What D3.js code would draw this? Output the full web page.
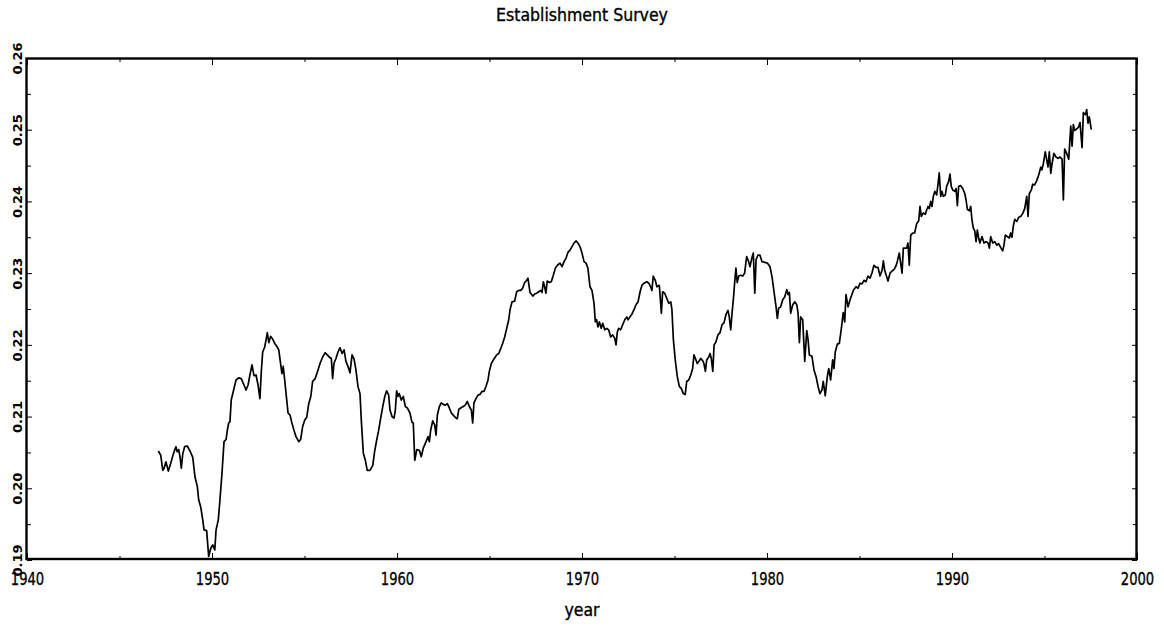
<!DOCTYPE html>
<html><head><meta charset="utf-8">
<script src="https://cdn.jsdelivr.net/npm/d3@7"></script>
<style>body{margin:0;background:#fff} svg{display:block}</style>
</head><body><svg id="c" width="1164" height="629"></svg>
<script>
const chartTitle = "Establishment Survey";
const xLabel = "year";
const xDomain = [1940, 2000];
const yDomain = [0.19, 0.26];
const xMajorTicks = [1940, 1950, 1960, 1970, 1980, 1990, 2000];
const xMinorTicks = [1945, 1955, 1965, 1975, 1985, 1995];
const yMajorTicks = [0.19, 0.20, 0.21, 0.22, 0.23, 0.24, 0.25, 0.26];
const yMinorTicks = [0.195, 0.205, 0.215, 0.225, 0.235, 0.245, 0.255];

// [year, share]
const points = [
[1947.10,0.2052],[1947.23,0.2046],[1947.34,0.2025],[1947.41,0.2028],[1947.51,0.2037],[1947.64,0.2024],[1947.77,0.2035],[1947.91,0.2048],
[1948.05,0.2058],[1948.12,0.2051],[1948.20,0.2054],[1948.27,0.2044],[1948.34,0.2028],[1948.42,0.2048],[1948.52,0.2058],[1948.66,0.2059],[1948.81,0.2052],[1948.96,0.2043],
[1949.08,0.2016],[1949.21,0.2002],[1949.28,0.1984],[1949.39,0.1974],[1949.50,0.1956],[1949.57,0.1942],[1949.71,0.1941],[1949.82,0.1905],[1949.93,0.1916],
[1950.04,0.1921],[1950.15,0.1914],[1950.22,0.1942],[1950.34,0.1956],[1950.43,0.1984],[1950.54,0.2021],[1950.65,0.2065],[1950.76,0.2068],[1950.83,0.2081],[1950.90,0.2091],[1950.97,0.2093],
[1951.04,0.2123],[1951.15,0.2135],[1951.30,0.2151],[1951.44,0.2154],[1951.58,0.2153],[1951.73,0.2144],[1951.84,0.2137],[1951.95,0.2144],
[1952.05,0.2158],[1952.16,0.2172],[1952.27,0.2157],[1952.38,0.2158],[1952.49,0.2144],[1952.59,0.2125],[1952.67,0.2165],[1952.74,0.2190],[1952.85,0.2197],[1952.92,0.2207],[1952.99,0.2217],
[1953.07,0.2203],[1953.17,0.2212],[1953.28,0.2208],[1953.39,0.2202],[1953.50,0.2198],[1953.61,0.2193],[1953.68,0.2179],[1953.78,0.2160],[1953.85,0.2170],[1953.93,0.2151],
[1954.04,0.2123],[1954.11,0.2105],[1954.22,0.2102],[1954.32,0.2091],[1954.43,0.2081],[1954.54,0.2072],[1954.69,0.2065],[1954.79,0.2068],[1954.90,0.2086],
[1955.01,0.2095],[1955.12,0.2099],[1955.23,0.2118],[1955.34,0.2128],[1955.44,0.2149],[1955.58,0.2153],[1955.73,0.2165],[1955.84,0.2174],[1955.98,0.2183],
[1956.12,0.2189],[1956.23,0.2186],[1956.34,0.2183],[1956.45,0.2181],[1956.52,0.2153],[1956.59,0.2174],[1956.70,0.2181],[1956.81,0.2190],[1956.92,0.2196],
[1957.03,0.2188],[1957.14,0.2193],[1957.24,0.2177],[1957.35,0.2170],[1957.46,0.2161],[1957.57,0.2186],[1957.68,0.2180],[1957.78,0.2165],[1957.89,0.2142],
[1958.00,0.2132],[1958.07,0.2095],[1958.18,0.2049],[1958.29,0.2039],[1958.39,0.2025],[1958.54,0.2025],[1958.69,0.2032],[1958.79,0.2051],[1958.90,0.2067],
[1959.01,0.2081],[1959.12,0.2098],[1959.23,0.2114],[1959.34,0.2128],[1959.44,0.2136],[1959.55,0.2130],[1959.62,0.2109],[1959.73,0.2100],[1959.84,0.2098],[1959.91,0.2109],[1959.98,0.2136],
[1960.05,0.2128],[1960.12,0.2132],[1960.23,0.2123],[1960.34,0.2128],[1960.45,0.2114],[1960.56,0.2112],[1960.70,0.2105],[1960.81,0.2092],[1960.88,0.2091],[1960.96,0.2039],
[1961.07,0.2054],[1961.21,0.2053],[1961.31,0.2044],[1961.42,0.2056],[1961.57,0.2065],[1961.68,0.2072],[1961.75,0.2065],[1961.82,0.2081],[1961.93,0.2094],
[1962.04,0.2088],[1962.11,0.2074],[1962.18,0.2102],[1962.29,0.2114],[1962.39,0.2119],[1962.50,0.2117],[1962.61,0.2116],[1962.72,0.2118],[1962.83,0.2112],[1962.94,0.2105],
[1963.04,0.2102],[1963.19,0.2098],[1963.26,0.2097],[1963.34,0.2110],[1963.44,0.2112],[1963.58,0.2114],[1963.69,0.2116],[1963.80,0.2121],[1963.91,0.2114],
[1964.02,0.2109],[1964.09,0.2091],[1964.16,0.2119],[1964.27,0.2125],[1964.38,0.2130],[1964.49,0.2131],[1964.59,0.2135],[1964.70,0.2135],[1964.81,0.2142],[1964.92,0.2151],[1964.99,0.2163],
[1965.10,0.2174],[1965.21,0.2179],[1965.31,0.2183],[1965.39,0.2186],[1965.50,0.2188],[1965.61,0.2195],[1965.71,0.2202],[1965.82,0.2211],[1965.93,0.2223],
[1966.04,0.2235],[1966.11,0.2249],[1966.22,0.2260],[1966.36,0.2261],[1966.47,0.2274],[1966.58,0.2276],[1966.69,0.2276],[1966.79,0.2279],[1966.90,0.2287],
[1967.01,0.2290],[1967.08,0.2293],[1967.19,0.2273],[1967.34,0.2268],[1967.44,0.2271],[1967.55,0.2272],[1967.66,0.2274],[1967.77,0.2276],[1967.84,0.2273],[1967.91,0.2288],[1967.98,0.2281],
[1968.05,0.2272],[1968.12,0.2289],[1968.23,0.2287],[1968.34,0.2288],[1968.45,0.2297],[1968.56,0.2307],[1968.67,0.2311],[1968.81,0.2314],[1968.92,0.2309],
[1969.03,0.2316],[1969.14,0.2321],[1969.24,0.2329],[1969.35,0.2332],[1969.46,0.2337],[1969.57,0.2342],[1969.68,0.2345],[1969.78,0.2342],[1969.89,0.2337],
[1970.00,0.2328],[1970.11,0.2316],[1970.22,0.2314],[1970.32,0.2307],[1970.43,0.2281],[1970.54,0.2276],[1970.65,0.2258],[1970.72,0.2232],[1970.79,0.2235],[1970.86,0.2225],[1970.94,0.2232],
[1971.04,0.2223],[1971.12,0.2230],[1971.23,0.2221],[1971.34,0.2223],[1971.44,0.2221],[1971.55,0.2211],[1971.66,0.2214],[1971.77,0.2209],[1971.84,0.2200],[1971.91,0.2218],[1971.98,0.2223],
[1972.09,0.2221],[1972.20,0.2228],[1972.31,0.2235],[1972.42,0.2239],[1972.49,0.2235],[1972.59,0.2239],[1972.70,0.2243],[1972.81,0.2249],[1972.92,0.2256],
[1973.03,0.2260],[1973.14,0.2274],[1973.24,0.2283],[1973.35,0.2286],[1973.50,0.2288],[1973.61,0.2286],[1973.71,0.2281],[1973.78,0.2276],[1973.85,0.2296],[1973.96,0.2290],
[1974.05,0.2281],[1974.18,0.2283],[1974.29,0.2244],[1974.36,0.2274],[1974.47,0.2272],[1974.58,0.2265],[1974.69,0.2258],[1974.80,0.2260],[1974.86,0.2249],[1974.94,0.2207],
[1975.04,0.2179],[1975.15,0.2156],[1975.26,0.2142],[1975.37,0.2139],[1975.48,0.2132],[1975.58,0.2131],[1975.66,0.2149],[1975.77,0.2151],[1975.88,0.2158],[1975.98,0.2167],
[1976.05,0.2186],[1976.16,0.2179],[1976.23,0.2174],[1976.34,0.2178],[1976.42,0.2181],[1976.52,0.2178],[1976.59,0.2174],[1976.67,0.2163],[1976.74,0.2179],[1976.85,0.2183],[1976.92,0.2188],[1976.99,0.2181],
[1977.07,0.2163],[1977.14,0.2200],[1977.24,0.2204],[1977.35,0.2214],[1977.46,0.2217],[1977.57,0.2228],[1977.68,0.2231],[1977.78,0.2242],[1977.89,0.2248],[1977.96,0.2239],
[1978.04,0.2221],[1978.11,0.2244],[1978.18,0.2263],[1978.25,0.2286],[1978.32,0.2307],[1978.39,0.2287],[1978.47,0.2296],[1978.58,0.2297],[1978.69,0.2296],[1978.79,0.2300],[1978.90,0.2323],
[1979.01,0.2316],[1979.08,0.2309],[1979.19,0.2322],[1979.26,0.2328],[1979.34,0.2272],[1979.41,0.2319],[1979.51,0.2325],[1979.62,0.2325],[1979.73,0.2316],[1979.88,0.2315],
[1980.02,0.2314],[1980.16,0.2309],[1980.27,0.2295],[1980.38,0.2274],[1980.49,0.2253],[1980.56,0.2237],[1980.63,0.2251],[1980.74,0.2253],[1980.85,0.2263],[1980.96,0.2267],
[1981.07,0.2277],[1981.14,0.2270],[1981.21,0.2273],[1981.28,0.2244],[1981.39,0.2256],[1981.50,0.2260],[1981.61,0.2256],[1981.68,0.2244],[1981.75,0.2203],[1981.82,0.2239],[1981.93,0.2235],
[1982.04,0.2177],[1982.15,0.2220],[1982.22,0.2207],[1982.29,0.2186],[1982.43,0.2184],[1982.54,0.2165],[1982.65,0.2156],[1982.76,0.2142],[1982.86,0.2132],[1982.97,0.2137],
[1983.04,0.2149],[1983.15,0.2129],[1983.26,0.2156],[1983.34,0.2167],[1983.44,0.2151],[1983.55,0.2179],[1983.62,0.2167],[1983.69,0.2190],[1983.80,0.2201],[1983.91,0.2202],
[1984.02,0.2223],[1984.12,0.2245],[1984.20,0.2232],[1984.27,0.2270],[1984.38,0.2253],[1984.49,0.2263],[1984.67,0.2276],[1984.81,0.2281],[1984.92,0.2279],
[1985.03,0.2286],[1985.14,0.2285],[1985.24,0.2290],[1985.35,0.2288],[1985.46,0.2296],[1985.57,0.2293],[1985.68,0.2301],[1985.78,0.2311],[1985.89,0.2308],
[1986.00,0.2308],[1986.11,0.2296],[1986.22,0.2304],[1986.29,0.2317],[1986.36,0.2304],[1986.47,0.2295],[1986.54,0.2289],[1986.65,0.2300],[1986.76,0.2303],[1986.86,0.2305],[1986.97,0.2310],
[1987.04,0.2316],[1987.15,0.2328],[1987.23,0.2313],[1987.30,0.2300],[1987.37,0.2335],[1987.48,0.2335],[1987.55,0.2335],[1987.62,0.2342],[1987.69,0.2311],[1987.77,0.2353],[1987.88,0.2356],[1987.98,0.2356],
[1988.09,0.2369],[1988.20,0.2373],[1988.27,0.2393],[1988.34,0.2379],[1988.45,0.2384],[1988.56,0.2382],[1988.63,0.2388],[1988.70,0.2393],[1988.77,0.2390],[1988.85,0.2400],[1988.92,0.2393],[1988.99,0.2407],
[1989.07,0.2414],[1989.17,0.2409],[1989.24,0.2423],[1989.31,0.2440],[1989.39,0.2407],[1989.46,0.2414],[1989.53,0.2407],[1989.64,0.2409],[1989.71,0.2421],[1989.82,0.2428],[1989.89,0.2438],[1989.96,0.2421],
[1990.04,0.2416],[1990.15,0.2414],[1990.22,0.2418],[1990.29,0.2394],[1990.36,0.2421],[1990.47,0.2422],[1990.58,0.2418],[1990.69,0.2411],[1990.76,0.2402],[1990.83,0.2389],[1990.94,0.2387],
[1991.01,0.2393],[1991.08,0.2374],[1991.15,0.2363],[1991.23,0.2359],[1991.30,0.2344],[1991.37,0.2360],[1991.44,0.2349],[1991.51,0.2342],[1991.62,0.2351],[1991.73,0.2342],[1991.84,0.2344],[1991.95,0.2342],
[1992.02,0.2335],[1992.09,0.2351],[1992.20,0.2342],[1992.31,0.2344],[1992.42,0.2339],[1992.52,0.2341],[1992.63,0.2336],[1992.74,0.2331],[1992.81,0.2339],[1992.88,0.2353],[1992.99,0.2351],
[1993.10,0.2349],[1993.17,0.2356],[1993.24,0.2350],[1993.31,0.2365],[1993.39,0.2375],[1993.50,0.2372],[1993.61,0.2378],[1993.71,0.2379],[1993.82,0.2383],[1993.93,0.2390],
[1994.04,0.2407],[1994.11,0.2379],[1994.18,0.2411],[1994.29,0.2416],[1994.36,0.2424],[1994.47,0.2423],[1994.58,0.2429],[1994.69,0.2437],[1994.80,0.2448],[1994.86,0.2444],[1994.94,0.2453],
[1995.04,0.2469],[1995.12,0.2458],[1995.19,0.2448],[1995.26,0.2469],[1995.34,0.2439],[1995.41,0.2453],[1995.51,0.2467],[1995.62,0.2462],[1995.73,0.2460],[1995.84,0.2462],[1995.95,0.2459],
[1996.02,0.2402],[1996.09,0.2473],[1996.20,0.2467],[1996.31,0.2459],[1996.42,0.2505],[1996.49,0.2477],[1996.56,0.2507],[1996.63,0.2499],[1996.74,0.2501],[1996.85,0.2504],[1996.92,0.2510],
[1997.03,0.2475],[1997.10,0.2524],[1997.21,0.2521],[1997.28,0.2528],[1997.35,0.2509],[1997.42,0.2518],[1997.53,0.2500]
];

const W = 1164, H = 629;
const plot = {left: 27, right: 1137, top: 58, bottom: 560};
const svg = d3.select("#c");

const x = d3.scaleLinear().domain(xDomain).range([plot.left, plot.right]);
const y = d3.scaleLinear().domain(yDomain).range([plot.bottom, plot.top]);

const narrow = "'Liberation Sans Narrow','DejaVu Sans Condensed',sans-serif";

// title
svg.append("text").attr("x", 582).attr("y", 21).attr("text-anchor", "middle")
  .style("font-family", narrow).style("font-size", "17.5px").attr("fill", "#000")
  .attr("stroke", "#000").attr("stroke-width", 0.35)
  .text(chartTitle);

// clip
svg.append("clipPath").attr("id", "clip").append("rect")
  .attr("x", plot.left).attr("y", plot.top)
  .attr("width", plot.right - plot.left).attr("height", plot.bottom - plot.top);

// line
const line = d3.line().x(d => x(d[0])).y(d => y(d[1]));
svg.append("path").datum(points).attr("d", line)
  .attr("clip-path", "url(#clip)")
  .attr("fill", "none").attr("stroke", "#000").attr("stroke-width", 1.7)
  .attr("stroke-linejoin", "round");

function cleanAxis(g) { g.select(".domain").remove(); g.selectAll(".tick line").attr("stroke", "#000").attr("stroke-width", 1); }

// x axes (ticks inward)
const gxb = svg.append("g").attr("transform", `translate(0,${plot.bottom})`)
  .call(d3.axisBottom(x).tickValues(xMajorTicks).tickFormat(d3.format("d")).tickSizeInner(-7).tickSizeOuter(0).tickPadding(0));
cleanAxis(gxb);
gxb.selectAll(".tick text").remove();
gxb.selectAll(".tick").append("text")
  .attr("transform", "translate(0,25) scale(0.86,1)")
  .attr("text-anchor", "middle").attr("fill", "#000")
  .attr("stroke", "#000").attr("stroke-width", 0.3)
  .style("font-family", narrow).style("font-size", "17px")
  .text(d => d3.format("d")(d));

svg.append("g").attr("transform", `translate(0,${plot.bottom})`)
  .call(d3.axisBottom(x).tickValues(xMinorTicks).tickFormat("").tickSizeInner(-4).tickSizeOuter(0))
  .call(cleanAxis);
svg.append("g").attr("transform", `translate(0,${plot.top})`)
  .call(d3.axisTop(x).tickValues(xMajorTicks).tickFormat("").tickSizeInner(-7).tickSizeOuter(0))
  .call(cleanAxis);
svg.append("g").attr("transform", `translate(0,${plot.top})`)
  .call(d3.axisTop(x).tickValues(xMinorTicks).tickFormat("").tickSizeInner(-4).tickSizeOuter(0))
  .call(cleanAxis);

// y axes
const gyl = svg.append("g").attr("transform", `translate(${plot.left},0)`)
  .call(d3.axisLeft(y).tickValues(yMajorTicks).tickFormat(d3.format(".2f")).tickSizeInner(-5).tickSizeOuter(0))
  .call(cleanAxis);
gyl.selectAll(".tick text").remove();
gyl.selectAll(".tick").append("text")
  .attr("transform", "translate(-5,0) rotate(-90)")
  .attr("text-anchor", "middle").attr("fill", "#000")
  .style("font-family", "'DejaVu Sans',sans-serif").style("font-size", "13px").style("font-weight", "bold")
  .text(d => d3.format(".2f")(d));
svg.append("g").attr("transform", `translate(${plot.left},0)`)
  .call(d3.axisLeft(y).tickValues(yMinorTicks).tickFormat("").tickSizeInner(-4).tickSizeOuter(0))
  .call(cleanAxis);
svg.append("g").attr("transform", `translate(${plot.right},0)`)
  .call(d3.axisRight(y).tickValues(yMajorTicks).tickFormat("").tickSizeInner(-5).tickSizeOuter(0))
  .call(cleanAxis);
svg.append("g").attr("transform", `translate(${plot.right},0)`)
  .call(d3.axisRight(y).tickValues(yMinorTicks).tickFormat("").tickSizeInner(-4).tickSizeOuter(0))
  .call(cleanAxis);

// frame
svg.append("rect").attr("x", plot.left - 0.5).attr("y", plot.top + 0.5)
  .attr("width", plot.right - plot.left).attr("height", plot.bottom - plot.top - 1.5)
  .attr("fill", "none").attr("stroke", "#000").attr("stroke-width", 2.4);

// x label
svg.append("text").attr("x", 582).attr("y", 616).attr("text-anchor", "middle")
  .style("font-family", narrow).style("font-size", "17.5px").attr("fill", "#000")
  .attr("stroke", "#000").attr("stroke-width", 0.35)
  .text(xLabel);
</script></body></html>
